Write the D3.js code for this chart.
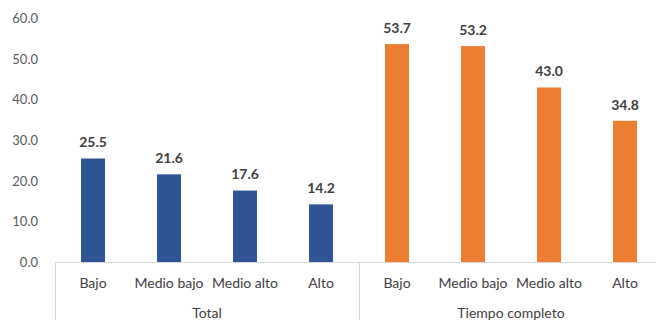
<!DOCTYPE html>
<html>
<head>
<meta charset="utf-8">
<script src="https://cdn.jsdelivr.net/npm/d3@7"></script>
<style>
  html, body { margin: 0; padding: 0; background: #fff; }
  svg { display: block; }
  text { font-family: Lato, "Open Sans", sans-serif; }
</style>
</head>
<body>
<svg id="chart" width="656" height="320"></svg>
<script>
// Groups and the income levels shown in each
const groups = ["Total", "Tiempo completo"];
const levels = ["Bajo", "Medio bajo", "Medio alto", "Alto"];
const totalValues = [25.5, 21.6, 17.6, 14.2];
const tiempoCompletoValues = [53.7, 53.2, 43.0, 34.8];
const yTicks = [0, 10, 20, 30, 40, 50, 60];
const groupColors = ["#2F5597", "#ED7D31"];

const rows = [];
groups.forEach((g, gi) => {
  const vals = gi === 0 ? totalValues : tiempoCompletoValues;
  levels.forEach((lv, li) => rows.push({ group: g, gi, level: lv, key: g + "|" + lv, value: vals[li] }));
});

const svg = d3.select("#chart");
const plotLeft = 55, plotRight = 663, plotTop = 18.5, plotBase = 262;

const x = d3.scaleBand()
  .domain(rows.map(d => d.key))
  .range([plotLeft, plotRight])
  .paddingInner(0.684)
  .paddingOuter(0.342);

const y = d3.scaleLinear().domain([0, 60]).range([plotBase, plotTop]);

// Y-axis labels (no axis line, no gridlines)
const yAxis = d3.axisLeft(y).tickValues(yTicks).tickFormat(d3.format(".1f")).tickSize(0).tickPadding(0);
const ya = svg.append("g").attr("transform", "translate(38,0)").call(yAxis);
ya.select(".domain").remove();
ya.selectAll("text")
  .attr("fill", "#595959")
  .style("font-size", "13px")
  .style("font-family", "Lato, 'Open Sans', sans-serif");

// Bars
svg.append("g").selectAll("rect")
  .data(rows)
  .join("rect")
  .attr("x", d => x(d.key))
  .attr("width", x.bandwidth())
  .attr("y", d => y(d.value))
  .attr("height", d => y(0) - y(d.value))
  .attr("fill", d => groupColors[d.gi]);

// Value labels
svg.append("g").selectAll("text")
  .data(rows)
  .join("text")
  .attr("x", d => x(d.key) + x.bandwidth() / 2)
  .attr("y", d => y(d.value) - 16)
  .attr("dy", "0.35em")
  .attr("text-anchor", "middle")
  .attr("fill", "#404040")
  .style("font-size", "14px")
  .style("font-weight", "bold")
  .text(d => d3.format(".1f")(d.value));

// Category axis line and group separators
const axisColor = "#d9d9d9";
svg.append("line")
  .attr("x1", plotLeft).attr("x2", plotRight)
  .attr("y1", plotBase + 0.5).attr("y2", plotBase + 0.5)
  .attr("stroke", axisColor);

const step = x.step();
const groupEdges = [0, levels.length, rows.length].map(i => plotLeft + i * step);
svg.append("g").selectAll("line")
  .data(groupEdges)
  .join("line")
  .attr("x1", d => Math.round(d) + 0.5).attr("x2", d => Math.round(d) + 0.5)
  .attr("y1", plotBase).attr("y2", 320)
  .attr("stroke", axisColor);

// Level labels
svg.append("g").selectAll("text")
  .data(rows)
  .join("text")
  .attr("x", d => x(d.key) + x.bandwidth() / 2)
  .attr("y", 283)
  .attr("dy", "0.35em")
  .attr("text-anchor", "middle")
  .attr("fill", "#404040")
  .style("font-size", "14px")
  .text(d => d.level);

// Group labels
svg.append("g").selectAll("text")
  .data(groups)
  .join("text")
  .attr("x", (d, i) => (groupEdges[i] + groupEdges[i + 1]) / 2)
  .attr("y", 313)
  .attr("dy", "0.35em")
  .attr("text-anchor", "middle")
  .attr("fill", "#404040")
  .style("font-size", "14px")
  .text(d => d);
</script>
</body>
</html>
